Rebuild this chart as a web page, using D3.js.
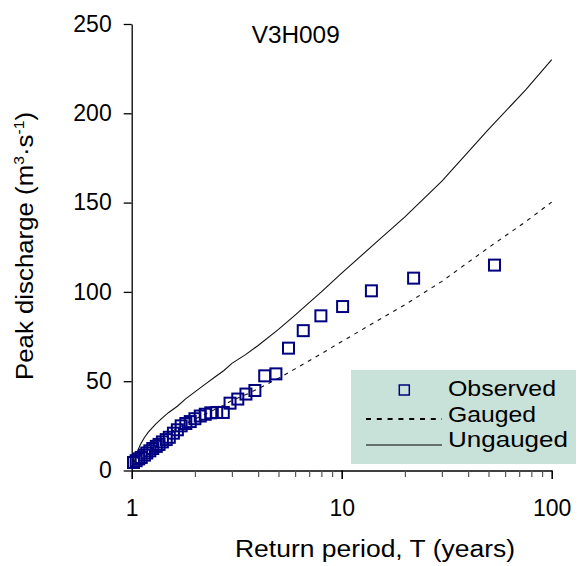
<!DOCTYPE html>
<html>
<head>
<meta charset="utf-8">
<script src="https://cdn.jsdelivr.net/npm/d3@7"></script>
<style>
  body { margin: 0; background: #fff; }
  text { font-family: "Liberation Sans", Arial, sans-serif; }
</style>
</head>
<body>
<div class="chart"></div>
<script>
// observed annual peaks, plotted against return period
var obsT = [53.4, 22.0, 13.85, 10.1, 7.96, 6.56, 5.58, 4.86, 4.30, 3.86, 3.50, 3.20, 2.94, 2.73, 2.54, 2.38, 2.24, 2.12, 2.00, 1.90,
            1.81, 1.72, 1.65, 1.58, 1.51, 1.46, 1.40, 1.35, 1.31, 1.26, 1.22, 1.18, 1.15, 1.11, 1.08, 1.05, 1.02];
var obsQ = [115, 107.7, 100.6, 91.8, 86.6, 78.3, 68.5, 54.1, 53.0, 44.8, 42.8, 40.0, 37.7, 32.5, 32.5, 32.3, 31.5, 30.5, 29, 27.4,
            26.3, 25, 22.8, 20.9, 18.6, 17.3, 16, 14.6, 13.5, 12.3, 11, 9.8, 8.6, 7.3, 6.5, 5.5, 4.5];

// fitted curves
var curveT    = [1.02, 1.05, 1.1, 1.15, 1.2, 1.3, 1.4, 1.5, 1.65, 1.8, 2, 2.25, 2.5, 2.75, 3, 3.5, 4, 5, 6, 7, 8, 10, 15, 20, 30, 50, 75, 100];
var gaugedQ   = [2, 5.9, 9.5, 12.1, 14.1, 17, 19.3, 21.2, 23.5, 26.1, 28.8, 31.7, 34.3, 36.6, 39.2, 42.5, 45.8, 51.6, 56.9, 61.4, 65.4, 72.2, 84.3, 92.8, 105.9, 124.8, 139.2, 150.3];
var ungaugedQ = [3, 9, 14.5, 18.5, 21.5, 26, 29.5, 32.5, 36, 40, 44, 48.5, 52.5, 56, 60, 65, 70, 79, 87, 94, 100, 110.5, 129, 142, 162, 191, 213, 230];

var yTicks = [0, 50, 100, 150, 200, 250];
var xMajor = [1, 10, 100];
var xMinor = [2, 3, 4, 5, 6, 7, 8, 9, 20, 30, 40, 50, 60, 70, 80, 90];
var legendLabels = ["Observed", "Gauged", "Ungauged"];
var stationName = "V3H009";

var width = 584, height = 566;
var margin = ({top: 24, right: 32.3, bottom: 95.5, left: 131.7});
var innerW = width - margin.left - margin.right,
    innerH = height - margin.top - margin.bottom;
var font = '"Liberation Sans", Arial, sans-serif';

var svg = d3.select(".chart")
  .append("svg")
    .attr("width", width)
    .attr("height", height);
var g = svg.append("g")
    .attr("transform", `translate(${margin.left},${margin.top})`);

var x = d3.scaleLog().domain([1, 100]).range([0, innerW]);
var y = d3.scaleLinear().domain([0, 250]).range([innerH, 0]);

// Y axis
var yAxis = g.append("g")
  .call(d3.axisLeft(y).tickValues(yTicks).tickSize(8).tickSizeOuter(0).tickPadding(12))
  .attr("font-family", font).attr("font-size", 23);
yAxis.select(".domain").attr("stroke-width", 1.3);
yAxis.selectAll("line").attr("stroke-width", 1.3);
yAxis.selectAll("text").attr("fill", "#000");

// X axis: minor ticks then major ticks with labels
var xMinorAxis = g.append("g")
  .attr("transform", `translate(0,${innerH})`)
  .call(d3.axisBottom(x).tickValues(xMinor).tickSize(6.5).tickSizeOuter(0).tickFormat(""));
xMinorAxis.select(".domain").attr("stroke-width", 1.3);
xMinorAxis.selectAll("line").attr("stroke", "#555").attr("stroke-width", 1.2);

var xMajorAxis = g.append("g")
  .attr("transform", `translate(0,${innerH})`)
  .call(d3.axisBottom(x).tickValues(xMajor).tickSize(8.5).tickSizeOuter(0).tickPadding(21).tickFormat(d3.format("d")))
  .attr("font-family", font).attr("font-size", 23);
xMajorAxis.select(".domain").remove();
xMajorAxis.selectAll("line").attr("stroke-width", 1.6);
xMajorAxis.selectAll("text").attr("fill", "#000");

// curves
var line = d3.line().x(d => x(d[0])).y(d => y(d[1]));

g.append("path")
  .datum(curveT.map((t, i) => [t, ungaugedQ[i]]))
  .attr("d", line)
  .attr("fill", "none")
  .attr("stroke", "#111")
  .attr("stroke-width", 1.1);

g.append("path")
  .datum(curveT.map((t, i) => [t, gaugedQ[i]]))
  .attr("d", line)
  .attr("fill", "none")
  .attr("stroke", "#111")
  .attr("stroke-width", 1.1)
  .attr("stroke-dasharray", "4,5");

// observed points
g.selectAll("rect.obs")
  .data(obsT.map((t, i) => [t, obsQ[i]]))
  .join("rect")
    .attr("class", "obs")
    .attr("x", d => x(d[0]) - 5.5)
    .attr("y", d => y(d[1]) - 5.5)
    .attr("width", 11)
    .attr("height", 11)
    .attr("fill", "none")
    .attr("stroke", "#000080")
    .attr("stroke-width", 2);

// station label
svg.append("text")
  .attr("x", 251.7).attr("y", 43.3)
  .attr("font-size", 23)
  .attr("textLength", 88).attr("lengthAdjust", "spacingAndGlyphs")
  .text(stationName);

// legend
var leg = svg.append("g");
leg.append("rect")
  .attr("x", 351).attr("y", 370)
  .attr("width", 225).attr("height", 94)
  .attr("fill", "#c9e2d9");
leg.append("rect")
  .attr("x", 399.3).attr("y", 385)
  .attr("width", 10).attr("height", 10)
  .attr("fill", "none").attr("stroke", "#000080").attr("stroke-width", 1.5);
leg.append("line")
  .attr("x1", 366).attr("x2", 442).attr("y1", 419).attr("y2", 419)
  .attr("stroke", "#000").attr("stroke-width", 2).attr("stroke-dasharray", "5,5.8");
leg.append("line")
  .attr("x1", 366).attr("x2", 442).attr("y1", 445).attr("y2", 445)
  .attr("stroke", "#000").attr("stroke-width", 1.2);
var legY = [396, 421.5, 446.5], legW = [108, 88, 120];
leg.selectAll("text")
  .data(legendLabels)
  .join("text")
    .attr("x", 448)
    .attr("y", (d, i) => legY[i])
    .attr("font-size", 22)
    .attr("textLength", (d, i) => legW[i]).attr("lengthAdjust", "spacingAndGlyphs")
    .text(d => d);

// axis titles
svg.append("text")
  .attr("x", 235).attr("y", 556.5)
  .attr("font-size", 23)
  .attr("textLength", 280).attr("lengthAdjust", "spacingAndGlyphs")
  .text("Return period, T (years)");

var yTitle = svg.append("text")
  .attr("transform", "translate(32.5,246) rotate(-90)")
  .attr("text-anchor", "middle")
  .attr("font-size", 23)
  .attr("textLength", 268).attr("lengthAdjust", "spacingAndGlyphs");
yTitle.append("tspan").text("Peak discharge (m");
yTitle.append("tspan").attr("dy", -9).attr("font-size", 14).text("3");
yTitle.append("tspan").attr("dy", 9).text("·s");
yTitle.append("tspan").attr("dy", -9).attr("font-size", 14).text("-1");
yTitle.append("tspan").attr("dy", 9).text(")");
</script>
</body>
</html>
